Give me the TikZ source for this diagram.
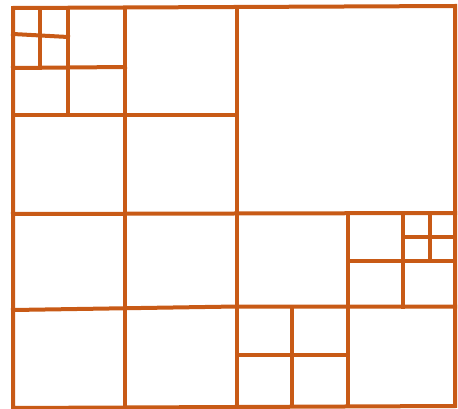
\documentclass[tikz,border=0pt]{standalone}
\usepackage{tikz}
\usepackage{xcolor}
\definecolor{gridorange}{RGB}{200,90,22}

\begin{document}
\begin{tikzpicture}[x=1pt,y=-1pt,
  cell/.style={draw=gridorange,line width=4pt,line cap=rect}]
  \useasboundingbox (0,0) rectangle (458,409);
  % outer frame
  \draw[cell] (13,8) -- (455,6) -- (455,406) -- (13,408) -- cycle;

  % first level split (4 x 4 blocks)
  \draw[cell] (125,8) -- (125,407);
  \draw[cell] (237,7) -- (237,407);
  \draw[cell] (348,213) -- (348,406);
  \draw[cell] (13,115) -- (237,115);
  \draw[cell] (13,214) -- (455,213);
  \draw[cell] (13,310) -- (237,306.5) -- (455,306.5);

  % top left block, split twice
  \draw[cell] (68,8) -- (68,115);
  \draw[cell] (13,68) -- (125,67);
  \draw[cell] (40,8) -- (40,68);
  \draw[cell] (13,34) -- (68,37);

  % right block in the middle row, split twice
  \draw[cell] (403,213) -- (403,306.5);
  \draw[cell] (348,261) -- (455,261);
  \draw[cell] (430,213) -- (430,261);
  \draw[cell] (403,237) -- (455,237);

  % bottom block, split once
  \draw[cell] (292,306.5) -- (292,406);
  \draw[cell] (237,355) -- (348,355);
\end{tikzpicture}
\end{document}
